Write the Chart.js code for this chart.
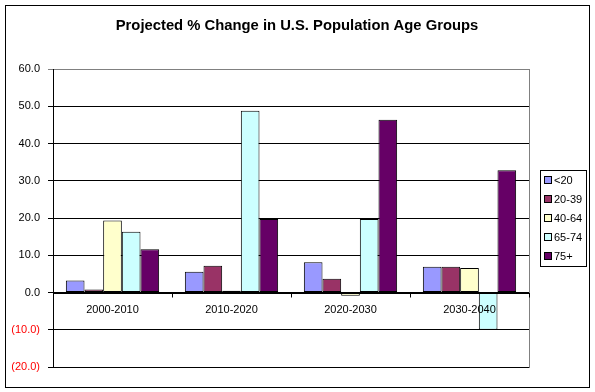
<!DOCTYPE html>
<html>
<head>
<meta charset="utf-8">
<title>Projected % Change in U.S. Population Age Groups</title>
<script src="https://cdn.jsdelivr.net/npm/chart.js@4/dist/chart.umd.min.js"></script>
<style>
  html, body { margin: 0; padding: 0; background: #fff; }
  #chart { display: block; }
</style>
</head>
<body>
<canvas id="chart" width="595" height="392"></canvas>
<script>
// ============================================================================
// Data
// ============================================================================

const CHART_TITLE = 'Projected % Change in U.S. Population Age Groups';
const categories = ['2000-2010', '2010-2020', '2020-2030', '2030-2040'];
const seriesLabels = ['<20', '20-39', '40-64', '65-74', '75+'];

const under20 = [3.2, 5.6, 8.1, 6.9];
const age20to39 = [0.8, 7.2, 3.7, 6.9];
const age40to64 = [19.3, 0.5, -0.9, 6.6];
const age65to74 = [16.3, 48.8, 19.7, -10.0];
const age75plus = [11.6, 19.7, 46.4, 32.8];

const Y_MIN = -20;
const Y_MAX = 60;
const Y_STEP = 10;

const SERIES_COLORS = ['#9999ff', '#993366', '#ffffcc', '#ccffff', '#660066'];
const FONT = "Arial, 'Liberation Sans', sans-serif";

// ============================================================================
// Helpers
// ============================================================================

/**
 * Excel style number: 10.0, negatives in parentheses
 */
function formatTick(v) {
  const s = Math.abs(v).toFixed(1);
  return v < 0 ? '(' + s + ')' : s;
}

function crisp(v) {
  return Math.round(v) + 0.5;
}

// ============================================================================
// Decorations drawn around the chart (title, legend, labels on zero line)
// ============================================================================

const excelDecor = {
  id: 'excelDecor',
  beforeDraw(chart) {
    const ctx = chart.ctx;
    ctx.save();
    ctx.fillStyle = '#ffffff';
    ctx.fillRect(0, 0, chart.width, chart.height);
    ctx.restore();
  },
  beforeDatasetsDraw(chart) {
    // gray plot area border on the right
    const ctx = chart.ctx;
    const a = chart.chartArea;
    ctx.save();
    ctx.strokeStyle = '#808080';
    ctx.lineWidth = 1;
    ctx.beginPath();
    ctx.moveTo(crisp(a.right), a.top);
    ctx.lineTo(crisp(a.right), a.bottom + 1);
    ctx.stroke();
    ctx.restore();
  },
  afterDatasetsDraw(chart) {
    const ctx = chart.ctx;
    const x = chart.scales.x;
    const y = chart.scales.y;
    const zeroY = crisp(y.getPixelForValue(0));

    ctx.save();
    // category axis line and tick marks at zero
    ctx.strokeStyle = '#000000';
    ctx.lineWidth = 1;
    ctx.beginPath();
    ctx.moveTo(chart.chartArea.left, zeroY);
    ctx.lineTo(chart.chartArea.right + 1, zeroY);
    for (let i = 1; i <= categories.length; i++) {
      const bx = i < categories.length
        ? (x.getPixelForValue(i - 1) + x.getPixelForValue(i)) / 2
        : chart.chartArea.right;
      ctx.moveTo(crisp(bx), zeroY);
      ctx.lineTo(crisp(bx), zeroY + 4);
    }
    ctx.stroke();

    // category labels just below the zero line
    ctx.fillStyle = '#000000';
    ctx.font = '11px ' + FONT;
    ctx.textAlign = 'center';
    ctx.textBaseline = 'middle';
    categories.forEach((c, i) => {
      ctx.fillText(c, x.getPixelForValue(i), zeroY + 16);
    });
    ctx.restore();
  },
  afterDraw(chart) {
    const ctx = chart.ctx;
    ctx.save();

    // title
    ctx.fillStyle = '#000000';
    ctx.font = 'bold 14.8px ' + FONT;
    ctx.textAlign = 'center';
    ctx.textBaseline = 'middle';
    ctx.fillText(CHART_TITLE, 297, 26);

    // legend box
    const lx = 540, ly = 170, lw = 46, lh = 96;
    ctx.strokeStyle = '#000000';
    ctx.lineWidth = 1;
    ctx.strokeRect(lx + 0.5, ly + 0.5, lw, lh);
    ctx.font = '11px ' + FONT;
    ctx.textAlign = 'left';
    chart.data.datasets.forEach((ds, i) => {
      const ry = ly + 10 + i * 19;
      ctx.fillStyle = ds.backgroundColor;
      ctx.fillRect(lx + 5, ry - 3, 6, 6);
      ctx.strokeRect(lx + 4.5, ry - 3.5, 7, 7);
      ctx.fillStyle = '#000000';
      ctx.fillText(ds.label, lx + 14, ry + 1);
    });

    // outer chart border
    ctx.strokeRect(5.5, 5.5, 584, 382);
    ctx.restore();
  }
};

// ============================================================================
// Chart
// ============================================================================

const seriesValues = [under20, age20to39, age40to64, age65to74, age75plus];

new Chart(document.getElementById('chart').getContext('2d'), {
  type: 'bar',
  data: {
    labels: categories,
    datasets: seriesLabels.map((label, i) => ({
      label: label,
      data: seriesValues[i],
      backgroundColor: SERIES_COLORS[i],
      borderColor: '#000000',
      borderWidth: 1,
      borderSkipped: false,
      categoryPercentage: 0.784,
      barPercentage: 1.0
    }))
  },
  options: {
    responsive: false,
    animation: false,
    devicePixelRatio: 1,
    layout: {
      padding: { left: 5, right: 66, top: 69, bottom: 25 }
    },
    plugins: {
      legend: { display: false },
      title: { display: false },
      tooltip: { enabled: false }
    },
    scales: {
      x: {
        display: false
      },
      y: {
        min: Y_MIN,
        max: Y_MAX,
        afterFit(scale) {
          scale.width = 48;
        },
        border: { color: '#000000', width: 1 },
        grid: {
          color: c => (c.tick && c.tick.value === Y_MAX ? '#808080' : '#000000'),
          tickLength: 5,
          lineWidth: 1
        },
        ticks: {
          stepSize: Y_STEP,
          padding: 8,
          font: { family: FONT, size: 11 },
          color: c => (c.tick && c.tick.value < 0 ? '#ff0000' : '#000000'),
          callback: v => formatTick(v)
        }
      }
    }
  },
  plugins: [excelDecor]
});
</script>
</body>
</html>
